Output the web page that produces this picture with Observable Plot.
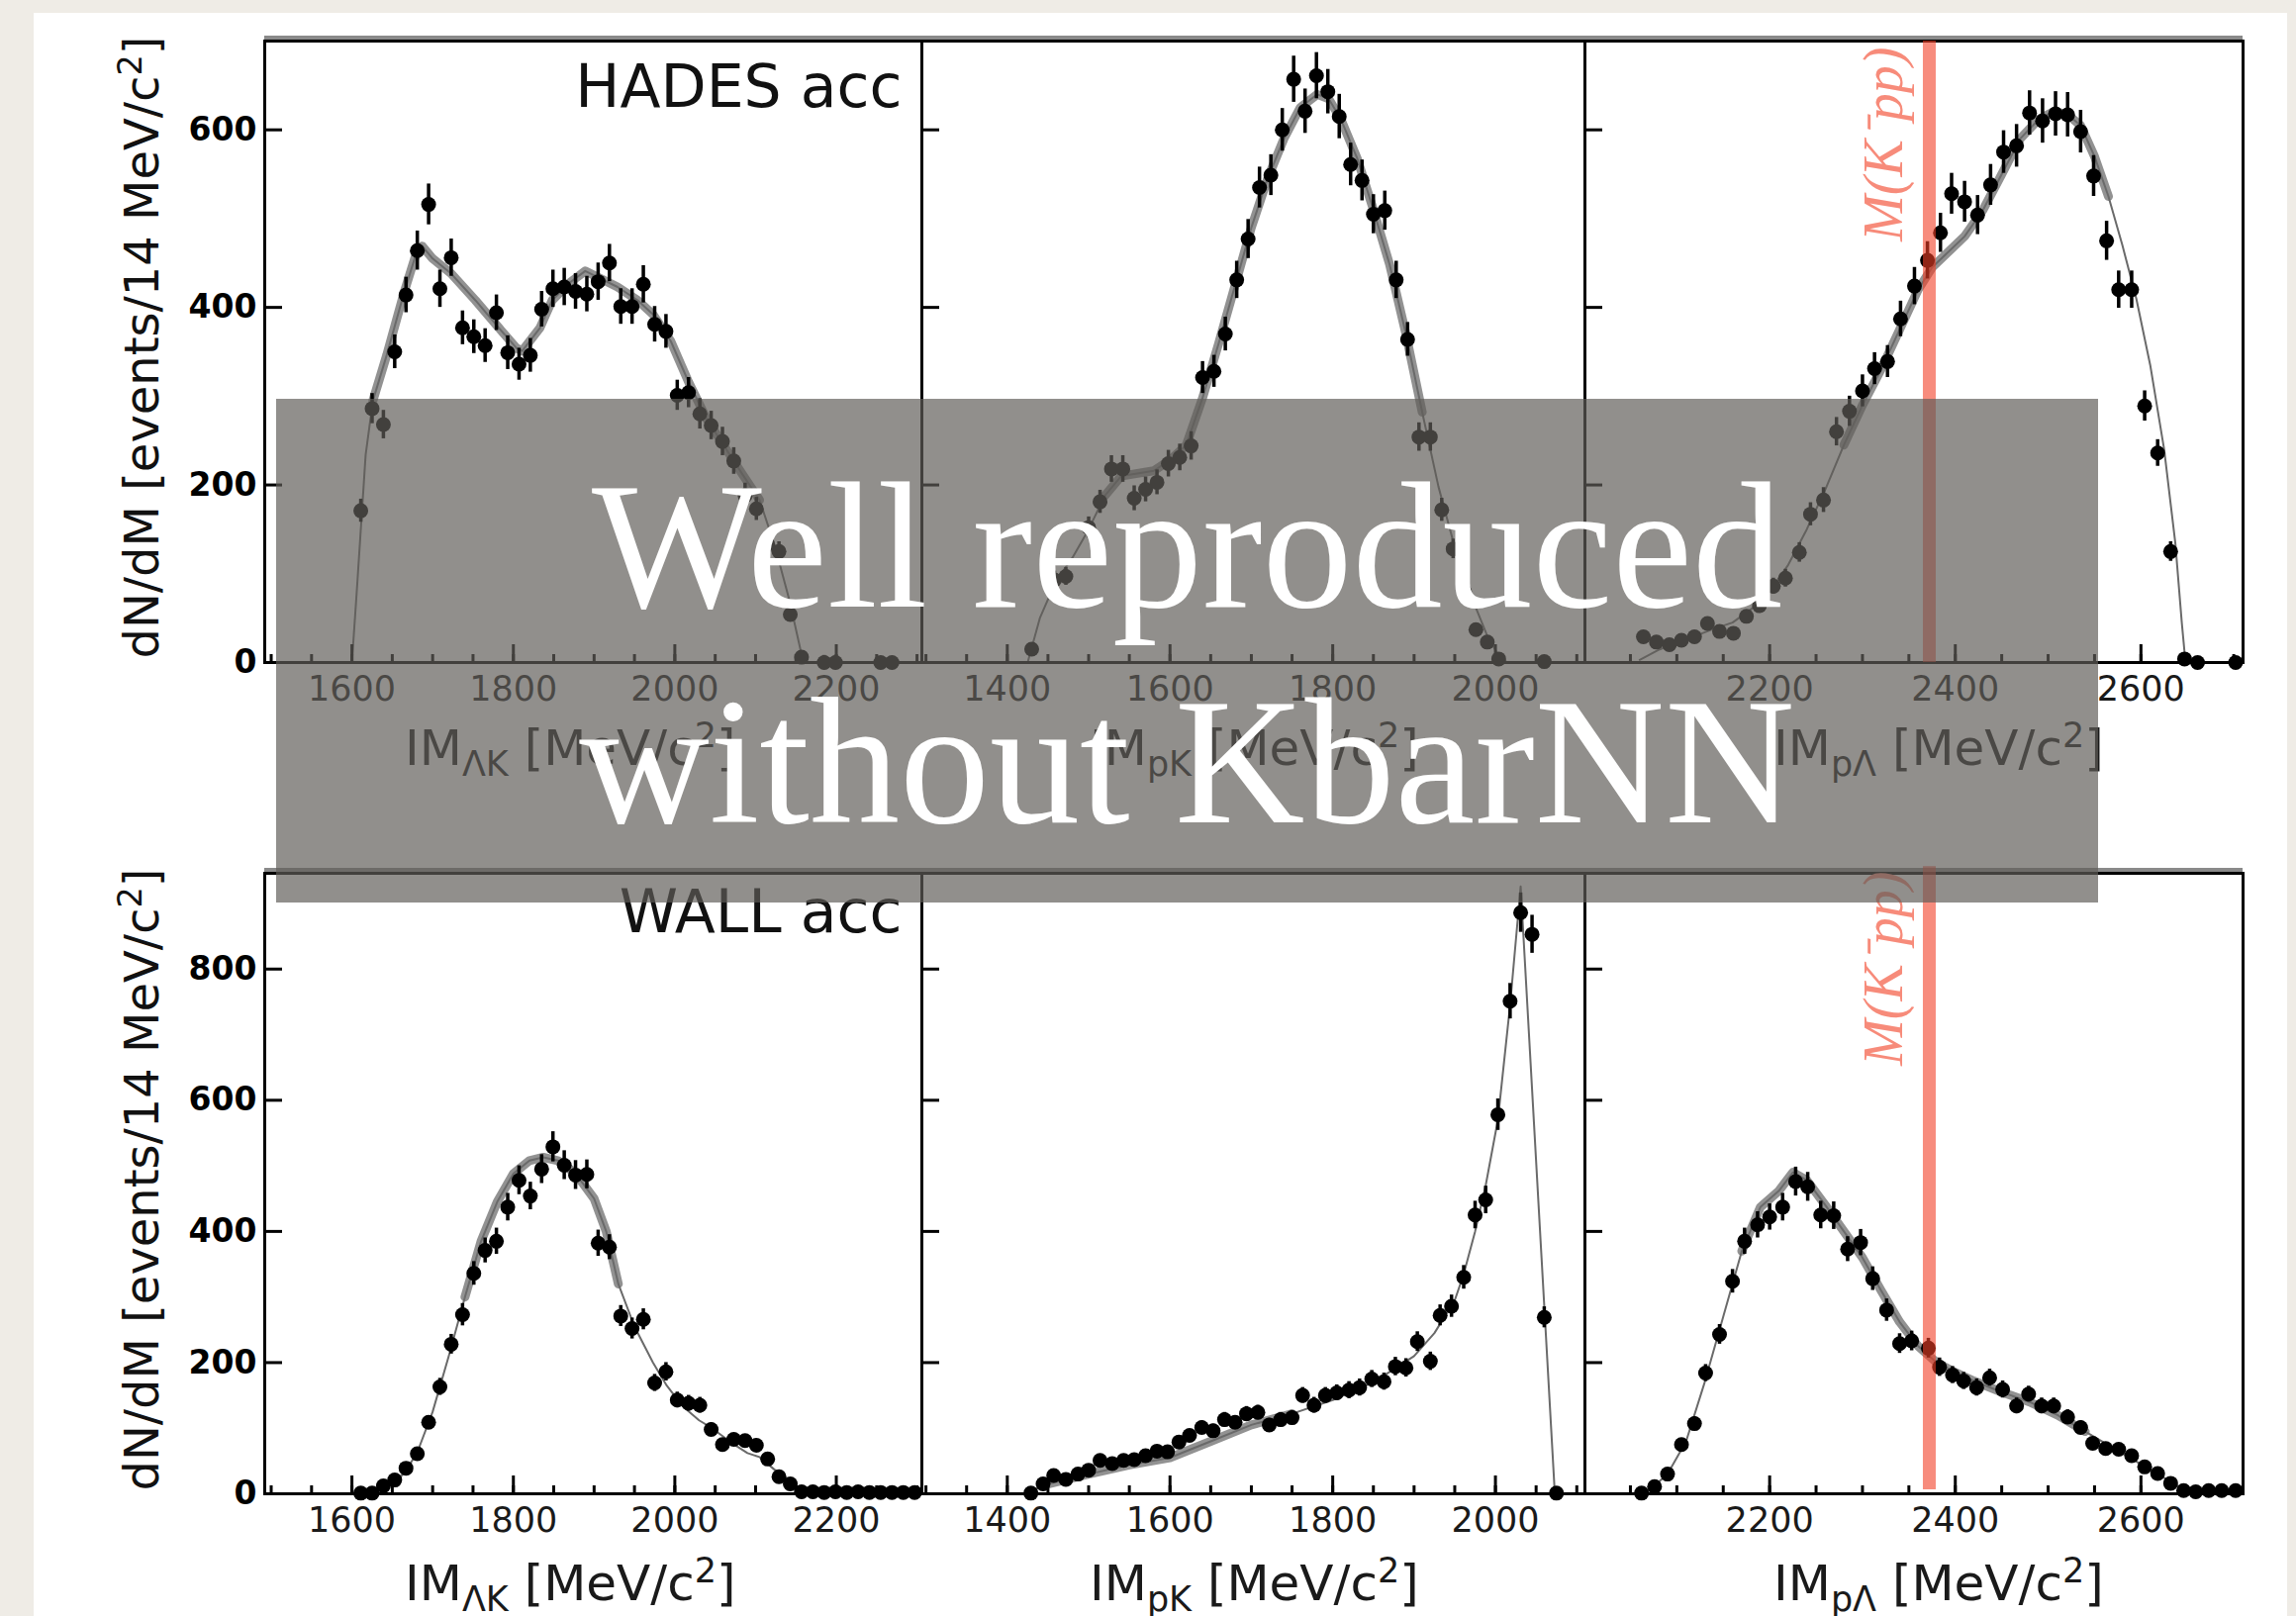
<!DOCTYPE html>
<html>
<head>
<meta charset="utf-8">
<script src="https://cdn.jsdelivr.net/npm/d3@7"></script>
<script src="https://cdn.jsdelivr.net/npm/@observablehq/plot@0.6"></script>
<style>
  html, body { margin: 0; padding: 0; }
  body {
    width: 2320px; height: 1633px; overflow: hidden; position: relative;
    background: #efece6; font-family: "DejaVu Sans", sans-serif;
  }
  #card { position: absolute; left: 34px; top: 13px; width: 2277px; height: 1640px; background: #fff; }
  .panel { position: absolute; }
  .panel svg { overflow: visible; }
  .xtitle {
    position: absolute; font-size: 50px; line-height: 50px; color: #1a1a1a; white-space: nowrap;
  }
  .xtitle sub, .xtitle sup, .ytitle sup { font-size: 70%; line-height: 0; }
  .ytitle {
    position: absolute; font-size: 48px; line-height: 48px; color: #111; white-space: nowrap;
    transform: translate(-50%, -50%) rotate(-90deg);
  }
  #banner {
    position: absolute; left: 279px; top: 403px; width: 1841px; height: 509px;
    background: rgba(95, 93, 88, 0.69);
  }
  #banner div {
    position: absolute; left: 0; right: 0; top: 40px; text-align: center;
    font-family: "Liberation Serif", serif; font-size: 182px; line-height: 218px; color: #fff;
  }
</style>
</head>
<body>
<div id="card"></div>
<script>
// ---- Measured spectra: bin centre [MeV/c^2], counts per 14 MeV/c^2, statistical error ----
// HADES acceptance, Lambda-K invariant mass
const hadesLK_mass = [1611,1625,1639,1653,1667,1681,1695,1709,1723,1737,1751,1765,1779,1793,1807,1821,1835,1849,1863,1877,1891,1905,1919,1933,1947,1961,1975,1989,2003,2017,2031,2045,2059,2073,2087,2101,2115,2129,2143,2157,2185,2199,2255,2269];
const hadesLK_counts = [171,286,268,350,414,464,516,421,456,377,367,357,394,349,336,346,398,421,423,418,415,429,450,401,401,426,381,373,301,304,280,267,249,227,188,173,133,125,54,6,0,0,0,0];
const hadesLK_err = [13,17,16,19,20,22,23,21,21,19,19,19,20,19,18,19,20,21,21,20,20,21,21,20,20,21,20,19,17,17,17,16,16,15,14,13,12,11,7,6,8,8,6,6];

// HADES acceptance, p-K invariant mass
const hadesPK_mass = [1430,1458,1472,1500,1514,1528,1542,1556,1570,1584,1598,1612,1626,1640,1654,1668,1682,1696,1710,1724,1738,1752,1766,1780,1794,1808,1822,1836,1850,1864,1878,1892,1906,1920,1934,1948,1962,1976,1990,2004,2060];
const hadesPK_counts = [15,93,97,152,181,218,218,185,195,203,224,231,244,321,328,370,431,477,535,549,600,657,621,661,643,615,561,543,505,509,431,364,254,254,172,128,80,37,23,4,1];
const hadesPK_err = [4,10,10,12,13,15,15,14,14,14,15,15,16,18,18,19,21,22,23,23,24,26,25,26,25,25,24,23,22,22,21,19,16,16,13,11,9,6,5,2,1];

// HADES acceptance, p-Lambda invariant mass
const hadesPL_mass = [2064,2078,2092,2105,2119,2133,2146,2161,2175,2189,2204,2217,2232,2244,2258,2272,2286,2300,2313,2327,2341,2356,2370,2384,2396,2410,2424,2438,2452,2466,2480,2494,2508,2521,2535,2549,2563,2576,2590,2604,2618,2632,2647,2661,2702];
const hadesPL_counts = [29,23,20,25,29,44,35,33,52,64,86,95,124,167,183,260,283,306,331,339,387,424,453,484,528,519,504,538,575,582,619,610,618,617,598,548,475,420,420,289,236,125,4,0,0];
const hadesPL_err = [5,5,4,5,5,7,6,6,7,8,9,10,11,13,14,16,17,18,18,18,20,21,21,22,23,23,22,23,24,24,25,25,25,25,24,23,22,21,21,17,15,11,2,1,1];

// WALL acceptance, Lambda-K invariant mass
const wallLK_mass = [1611,1625,1639,1653,1667,1681,1695,1709,1723,1737,1751,1765,1779,1793,1807,1821,1835,1849,1863,1877,1891,1905,1919,1933,1947,1961,1975,1989,2003,2017,2031,2045,2059,2073,2087,2101,2115,2129,2143,2157,2171,2185,2199,2213,2227,2241,2255,2269,2283,2297];
const wallLK_counts = [1,1,12,21,39,61,109,163,228,273,336,371,385,437,478,454,495,529,501,486,487,382,376,271,252,266,169,186,143,138,135,98,75,83,81,74,53,26,15,3,3,2,3,2,3,2,2,2,2,2];
const wallLK_err = [1,1,4,5,6,8,10,13,15,17,18,19,20,21,22,21,22,23,22,22,22,20,19,16,16,16,13,14,12,12,12,10,9,9,9,9,7,5,4,2,2,1,2,1,2,1,1,1,1,1];

// WALL acceptance, p-K invariant mass
const wallPK_mass = [1429,1444,1457,1472,1487,1500,1514,1529,1543,1556,1570,1584,1597,1611,1624,1639,1653,1667,1680,1694,1708,1722,1736,1750,1763,1777,1791,1805,1820,1833,1848,1863,1877,1890,1904,1920,1932,1946,1961,1975,1988,2003,2018,2031,2045,2060,2075];
const wallPK_counts = [1,15,28,22,30,36,51,46,51,52,58,65,64,79,89,101,96,113,109,122,124,105,113,116,150,135,150,154,158,162,175,171,194,192,232,202,272,286,330,425,448,578,751,886,853,269,1];
const wallPK_err = [1,4,5,5,5,6,7,7,7,7,8,8,8,9,9,10,10,11,10,11,11,10,11,11,12,12,12,12,13,13,13,13,14,14,15,14,16,17,18,21,21,24,27,30,29,16,1];

// WALL acceptance, p-Lambda invariant mass
const wallPL_mass = [2062,2076,2090,2105,2119,2131,2146,2160,2173,2187,2200,2214,2228,2241,2255,2269,2284,2298,2311,2326,2340,2353,2371,2383,2397,2409,2423,2437,2451,2466,2479,2493,2506,2521,2535,2548,2562,2576,2590,2604,2618,2632,2646,2659,2673,2687,2702];
const wallPL_counts = [1,11,30,75,107,184,243,324,385,410,422,437,476,468,425,424,373,383,328,280,229,233,222,193,181,172,162,177,159,134,152,134,134,117,101,77,69,68,58,41,31,16,5,3,5,5,5];
const wallPL_err = [1,3,5,8,10,13,15,18,20,20,20,21,22,22,21,21,19,20,18,17,15,15,15,14,13,13,13,13,13,12,12,12,12,11,10,9,8,8,8,6,6,4,2,2,2,2,2];

// ---- Simulated spectra (model curves) ----
const hadesLK_simMass = [1600,1606,1617,1626,1643,1665,1679,1687,1700,1723,1753,1782,1804,1811,1833,1848,1870,1889,1907,1929,1954,1973,1995,2017,2039,2061,2083,2105,2124,2142,2157,2164,2300];
const hadesLK_simCounts = [0,80,234,295,346,418,459,469,455,438,408,377,354,351,377,408,428,441,433,423,408,392,362,316,275,244,213,183,131,70,9,0,0];
const hadesPK_simMass = [1425,1440,1460,1480,1500,1520,1540,1560,1580,1600,1620,1640,1660,1680,1700,1720,1740,1760,1781,1795,1810,1830,1850,1870,1890,1910,1930,1950,1970,1990,2005,2015];
const hadesPK_simCounts = [0,50,92,118,150,188,210,213,216,228,245,298,360,425,490,545,590,625,640,635,612,568,510,448,370,282,198,130,75,30,6,0];
const hadesPL_simMass = [2060,2080,2100,2120,2140,2160,2180,2200,2220,2240,2260,2280,2300,2320,2340,2360,2375,2390,2410,2430,2450,2470,2490,2505,2520,2535,2550,2565,2580,2595,2610,2625,2637,2644,2648];
const hadesPL_simCounts = [3,14,22,30,38,45,60,80,110,150,195,245,290,330,375,420,445,460,480,510,550,590,612,620,618,605,570,525,470,410,335,240,135,45,0];
const wallLK_simMass = [1600,1620,1640,1660,1680,1700,1720,1740,1760,1780,1800,1820,1837,1855,1870,1885,1900,1915,1930,1950,1973,1990,2010,2030,2046,2070,2090,2105,2130,2150,2165,2180,2300];
const wallLK_simCounts = [0,3,10,25,60,125,210,300,385,445,488,508,513,508,495,475,450,400,320,255,200,165,133,112,100,78,62,56,30,12,3,0,0];
const wallPK_simMass = [1420,1450,1500,1550,1600,1650,1700,1750,1800,1850,1900,1925,1950,1961,1975,1988,2003,2018,2031,2073];
const wallPK_simCounts = [0,15,30,44,55,80,105,122,143,170,210,245,295,335,400,470,570,745,926,0];
const wallPL_simMass = [2050,2070,2090,2110,2130,2150,2170,2190,2210,2225,2240,2260,2280,2300,2320,2340,2360,2380,2400,2420,2450,2480,2510,2540,2570,2600,2630,2650,2665,2710];
const wallPL_simCounts = [0,5,30,80,170,270,370,437,462,490,478,440,400,360,310,262,225,200,185,172,155,140,120,95,70,45,20,4,0,0];

// ---- Tick labels ----
const ticksLK = [1600, 1800, 2000, 2200];
const ticksPK = [1400, 1600, 1800, 2000];
const ticksPL = [2200, 2400, 2600];
const yTicksHades = [0, 200, 400, 600];
const yTicksWall = [0, 200, 400, 600, 800];

// K^- p p threshold mass [MeV/c^2]
const kppMass = 2372;

// ---- Layout of the 2x3 grid (frame edges in page pixels) ----
const cols = [{left: 267, right: 931}, {left: 931, right: 1601}, {left: 1601, right: 2266}];
const rows = [{top: 41, bottom: 669}, {top: 882, bottom: 1509}];

const panels = [
  {row: 0, col: 0, x: [1492, 2306], y: [0, 700], xt: ticksLK, yt: yTicksHades, yLabels: true,
   mass: hadesLK_mass, counts: hadesLK_counts, err: hadesLK_err, simM: hadesLK_simMass, simC: hadesLK_simCounts,
   band: [1625, 2110], tag: "HADES acc", tagDy: 24},
  {row: 0, col: 1, x: [1295, 2110], y: [0, 700], xt: ticksPK, yt: yTicksHades,
   mass: hadesPK_mass, counts: hadesPK_counts, err: hadesPK_err, simM: hadesPK_simMass, simC: hadesPK_simCounts,
   band: [1520, 1910]},
  {row: 0, col: 2, x: [2001, 2710], y: [0, 700], xt: ticksPL, yt: yTicksHades,
   mass: hadesPL_mass, counts: hadesPL_counts, err: hadesPL_err, simM: hadesPL_simMass, simC: hadesPL_simCounts,
   band: [2280, 2565], kpp: {y1: 0, y2: 700, dy: 6}},
  {row: 1, col: 0, x: [1492, 2306], y: [0, 946], xt: ticksLK, yt: yTicksWall, yLabels: true,
   mass: wallLK_mass, counts: wallLK_counts, err: wallLK_err, simM: wallLK_simMass, simC: wallLK_simCounts,
   band: [1740, 1935], tag: "WALL acc", tagDy: 17},
  {row: 1, col: 1, x: [1295, 2110], y: [0, 946], xt: ticksPK, yt: yTicksWall,
   mass: wallPK_mass, counts: wallPK_counts, err: wallPK_err, simM: wallPK_simMass, simC: wallPK_simCounts,
   band: [1440, 1760]},
  {row: 1, col: 2, x: [2001, 2710], y: [0, 946], xt: ticksPL, yt: yTicksWall,
   mass: wallPL_mass, counts: wallPL_counts, err: wallPL_err, simM: wallPL_simMass, simC: wallPL_simCounts,
   band: [2160, 2560], kpp: {y1: 6, y2: 956, dy: -2}}
];

function drawPanel(s) {
  const col = cols[s.col], row = rows[s.row];
  const w = col.right - col.left, h = row.bottom - row.top;
  const ml = 170, mr = 20, mt = 20, mb = 70;
  const pts = s.mass.map((x, i) => ({x, y: s.counts[i], e: s.err[i]}));
  const sim = s.simM.map((x, i) => ({x, y: s.simC[i]}));
  const simBand = sim.filter(d => d.x >= s.band[0] && d.x <= s.band[1]);
  const minor = d3.range(Math.ceil(s.x[0] / 50) * 50, s.x[1], 50);

  const marks = [
    // simulation: uncertainty band and central curve
    Plot.line(simBand, {x: "x", y: "y", stroke: "#929292", strokeWidth: 9, strokeLinejoin: "round", strokeLinecap: "round"}),
    Plot.line(sim, {x: "x", y: "y", stroke: "#6a6a6a", strokeWidth: 2}),
    // data with error bars
    Plot.ruleX(pts, {x: "x", y1: d => d.y - d.e, y2: d => d.y + d.e, stroke: "#000", strokeWidth: 3.5}),
    Plot.dot(pts, {x: "x", y: "y", r: 7.5, fill: "#000"}),
    // inward ticks
    Plot.ruleX(minor, {stroke: "#000", strokeWidth: 3, insetTop: h - 8}),
    Plot.ruleX(s.xt, {stroke: "#000", strokeWidth: 3, insetTop: h - 18}),
    Plot.ruleY(s.yt.filter(v => v > 0), {stroke: "#000", strokeWidth: 3, insetRight: w - 18}),
    // frame
    Plot.ruleY([s.y[1]], {stroke: "#8a8a8a", strokeWidth: 4, dy: -3.5}),
    Plot.frame({stroke: "#000", strokeWidth: 3}),
    Plot.axisX({ticks: s.xt, tickSize: 0, tickPadding: 14, fontSize: 35, fill: "#1a1a1a", label: null, tickFormat: d => String(d)})
  ];
  if (s.yLabels) {
    marks.push(Plot.axisY({ticks: s.yt, tickSize: 0, tickPadding: 8, fontSize: 33, fontWeight: "bold", fill: "#000", label: null, tickFormat: d => String(d)}));
  }
  if (s.tag) {
    marks.push(Plot.text([s.tag], {frameAnchor: "top-right", textAnchor: "end", lineAnchor: "top", dx: -20, dy: s.tagDy, fontSize: 60, fill: "#111"}));
  }
  if (s.kpp) {
    marks.push(Plot.ruleX([kppMass], {x: d => d, y1: s.kpp.y1, y2: s.kpp.y2, stroke: "#f23f26", strokeOpacity: 0.6, strokeWidth: 13}));
    marks.push(Plot.text([kppMass], {x: d => d, text: () => "M(K\u207Bpp)", frameAnchor: "top", rotate: -90, textAnchor: "end",
      lineAnchor: "middle", dx: -45, dy: s.kpp.dy, fontSize: 56, fontStyle: "italic", fontFamily: "Liberation Serif", fill: "#f78b7a"}));
  }

  const svg = Plot.plot({
    width: w + ml + mr, height: h + mt + mb,
    marginLeft: ml, marginRight: mr, marginTop: mt, marginBottom: mb,
    x: {domain: s.x},
    y: {domain: s.y, axis: s.yLabels ? undefined : null},
    style: {background: "transparent", fontFamily: "DejaVu Sans", overflow: "visible"},
    marks
  });
  const div = document.createElement("div");
  div.className = "panel";
  div.style.left = (col.left - ml) + "px";
  div.style.top = (row.top - mt) + "px";
  div.appendChild(svg);
  document.body.appendChild(div);
}

panels.forEach(drawPanel);

// axis titles
const xTitles = [
  {html: "IM<sub>\u039BK</sub> [MeV/c<sup>2</sup>]", left: 409},
  {html: "IM<sub>pK</sub> [MeV/c<sup>2</sup>]", left: 1101},
  {html: "IM<sub>p\u039B</sub> [MeV/c<sup>2</sup>]", left: 1792}
];
[773, 1617].forEach(baseline => {
  xTitles.forEach(t => {
    const d = document.createElement("div");
    d.className = "xtitle";
    d.innerHTML = t.html;
    d.style.left = t.left + "px";
    d.style.top = (baseline - 42) + "px";
    document.body.appendChild(d);
  });
});
[351, 1192].forEach(cy => {
  const d = document.createElement("div");
  d.className = "ytitle";
  d.innerHTML = "dN/dM [events/14 MeV/c<sup>2</sup>]";
  d.style.left = "143px";
  d.style.top = cy + "px";
  document.body.appendChild(d);
});

// banner across the top row
const banner = document.createElement("div");
banner.id = "banner";
banner.innerHTML = "<div>Well reproduced<br>without KbarNN</div>";
document.body.appendChild(banner);
</script>
</body>
</html>
